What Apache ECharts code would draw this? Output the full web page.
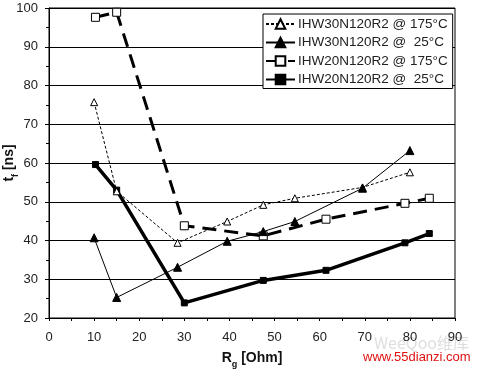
<!DOCTYPE html>
<html>
<head>
<meta charset="utf-8">
<script src="https://cdn.jsdelivr.net/npm/echarts@6/dist/echarts.min.js"></script>
<style>
html,body{margin:0;padding:0;background:#fff;}
#c{width:477px;height:372px;}
</style>
</head>
<body>
<div id="c"></div>
<script>
// Data
var seriesNames = ['IHW30N120R2 @ 175°C', 'IHW30N120R2 @  25°C', 'IHW20N120R2 @ 175°C', 'IHW20N120R2 @  25°C'];
var rgIHW30 = [10, 15, 28.5, 39.5, 47.5, 54.5, 69.5, 80];
var tfIHW30_175 = [75.7, 52.7, 39.4, 44.9, 49.2, 50.9, 53.7, 57.6];
var tfIHW30_25 = [40.7, 25.3, 33.1, 39.8, 42.3, 44.9, 53.5, 63.2];
var rgIHW20 = [10.3, 15, 30, 47.5, 61.4, 78.9, 84.3];
var tfIHW20_175 = [97.6, 98.9, 43.8, 41.2, 45.5, 49.6, 50.9];
var tfIHW20_25 = [59.6, 53.0, 23.9, 29.7, 32.3, 39.4, 41.8];
var xTicks = [0, 10, 20, 30, 40, 50, 60, 70, 80, 90];
var yTicks = [20, 30, 40, 50, 60, 70, 80, 90, 100];

function pairs(xs, ys) { return xs.map(function (x, i) { return [x, ys[i]]; }); }

var FONT = "'Liberation Sans', Arial, sans-serif";
var nameRich = {
  b: { fontFamily: FONT, fontSize: 14, fontWeight: 'bold', color: '#111', lineHeight: 18, verticalAlign: 'bottom' },
  s: { fontFamily: FONT, fontSize: 9, fontWeight: 'bold', color: '#111', lineHeight: 14, verticalAlign: 'bottom', padding: [0, 0, -4, 0] }
};
var chart = echarts.init(document.getElementById('c'));
chart.setOption({
  animation: false,
  backgroundColor: '#fff',
  textStyle: { fontFamily: FONT },
  grid: { left: 49, right: 22, top: 8, bottom: 54, outerBoundsMode: 'none', containLabel: false,
          show: true, borderColor: '#000', borderWidth: 1 },
  legend: {
    orient: 'vertical',
    left: 263, top: 14,
    backgroundColor: '#fff',
    borderColor: '#000', borderWidth: 1,
    padding: [3, 5, 2, 2],
    itemWidth: 29, itemHeight: 12, itemGap: 4.5,
    textStyle: { fontFamily: FONT, fontSize: 13.5, color: '#222', padding: [0, 0, 0, -2] },
    data: seriesNames
  },
  xAxis: {
    type: 'value', min: xTicks[0], max: xTicks[xTicks.length - 1], interval: 10,
    name: '{b|R}{s|g}{b| [Ohm]}', nameLocation: 'middle', nameGap: 29,
    nameTextStyle: { rich: nameRich },
    axisLine: { lineStyle: { color: '#000', width: 1 } },
    axisTick: { length: 3, lineStyle: { color: '#000' } },
    minorTick: { show: true, splitNumber: 2, length: 3, lineStyle: { color: '#000' } },
    axisLabel: { fontFamily: FONT, fontSize: 13, color: '#222', margin: 13 },
    splitLine: { show: false }
  },
  yAxis: {
    type: 'value', min: yTicks[0], max: yTicks[yTicks.length - 1], interval: 10,
    name: '{b|t}{s|f}{b| [ns]}', nameLocation: 'middle', nameGap: 33, nameMoveOverlap: false,
    nameTextStyle: { rich: nameRich },
    axisLine: { show: true, lineStyle: { color: '#000', width: 1 } },
    axisTick: { show: true, length: 4, lineStyle: { color: '#000' } },
    minorTick: { show: true, splitNumber: 2, length: 3, lineStyle: { color: '#000' } },
    axisLabel: { fontFamily: FONT, fontSize: 13, color: '#222', margin: 11 },
    splitLine: { show: true, lineStyle: { color: '#000', width: 1 } }
  },
  series: [
    {
      name: seriesNames[0], type: 'line', data: pairs(rgIHW30, tfIHW30_175),
      symbol: 'triangle', symbolSize: 7,
      lineStyle: { color: '#000', width: 1, type: [3, 2] },
      itemStyle: { color: '#fff', borderColor: '#000', borderWidth: 1 },
      z: 3
    },
    {
      name: seriesNames[1], type: 'line', data: pairs(rgIHW30, tfIHW30_25),
      symbol: 'triangle', symbolSize: 8,
      lineStyle: { color: '#000', width: 1 },
      itemStyle: { color: '#000', borderColor: '#000', borderWidth: 1 },
      z: 4
    },
    {
      name: seriesNames[2], type: 'line', data: pairs(rgIHW20, tfIHW20_175),
      symbol: 'rect', symbolSize: 8,
      lineStyle: { color: '#000', width: 3, type: [14, 8] },
      itemStyle: { color: '#fff', borderColor: '#000', borderWidth: 1 },
      z: 2
    },
    {
      name: seriesNames[3], type: 'line', data: pairs(rgIHW20, tfIHW20_25),
      symbol: 'rect', symbolSize: 6,
      lineStyle: { color: '#000', width: 3.5 },
      itemStyle: { color: '#000', borderColor: '#000', borderWidth: 1 },
      z: 2
    }
  ],
  graphic: [
    { type: 'text', left: 374, top: 335, z: 0, style: { text: 'WeeQoo维库', fontSize: 16, fontFamily: "'Noto Sans CJK SC', " + FONT, fill: 'rgba(160,160,160,0.35)' } },
    { type: 'text', left: 363, top: 351, z: 10, style: { text: 'www.55dianzi.com', fontSize: 13, fontFamily: FONT, fill: '#e01010' } }
  ]
});
</script>
</body>
</html>
